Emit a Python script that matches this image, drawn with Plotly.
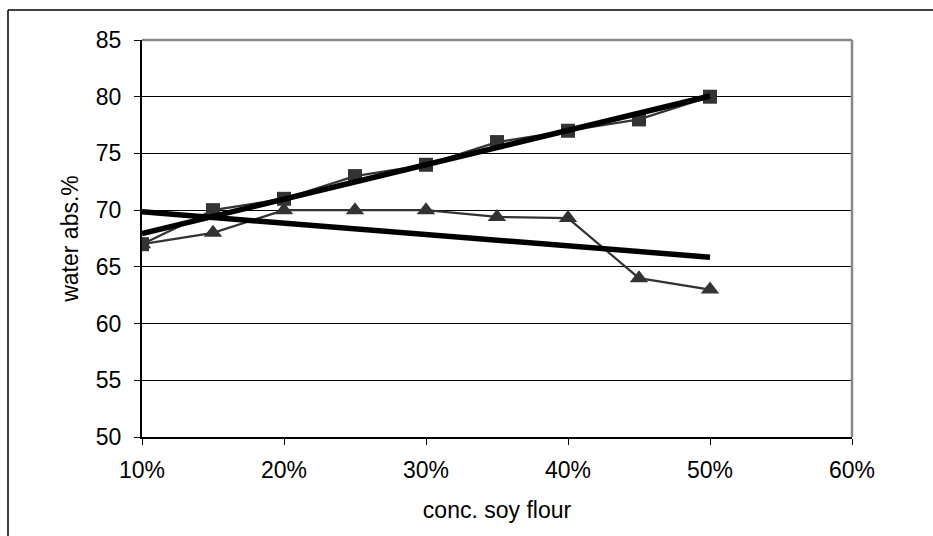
import numpy as np
import plotly.graph_objects as go

conc = [0.10, 0.15, 0.20, 0.25, 0.30, 0.35, 0.40, 0.45, 0.50]
series_square = [67, 70, 71, 73, 74, 76, 77, 78, 80]
series_triangle = [67, 68, 70, 70, 70, 69.4, 69.3, 64, 63]
x_ticks = [0.1, 0.2, 0.3, 0.4, 0.5, 0.6]
y_ticks = [50, 55, 60, 65, 70, 75, 80, 85]

W, H = 933, 536
L, R, T, B = 142, 81, 40, 99

fig = go.Figure()
fig.add_trace(go.Scatter(x=conc, y=series_square, mode="lines+markers",
                         line=dict(color="#333333", width=2.2),
                         marker=dict(symbol="square", size=14, color="#333333"),
                         showlegend=False))
fig.add_trace(go.Scatter(x=conc, y=series_triangle, mode="lines+markers",
                         line=dict(color="#333333", width=2.2),
                         marker=dict(symbol="triangle-up", size=16, color="#333333"),
                         showlegend=False))

xa = np.array(conc)
for ys in (series_square, series_triangle):
    m, b = np.polyfit(xa, np.array(ys), 1)
    xs = [conc[0], conc[-1]]
    fig.add_trace(go.Scatter(x=xs, y=[m * v + b for v in xs], mode="lines",
                             line=dict(color="black", width=5.5),
                             showlegend=False, hoverinfo="skip"))

tickfont = dict(family="Liberation Sans, Arial, sans-serif", size=23, color="black")
titlefont = dict(family="Liberation Sans, Arial, sans-serif", size=23, color="black")

fig.update_layout(
    width=W, height=H,
    margin=dict(l=L, r=R, t=T, b=B),
    paper_bgcolor="white", plot_bgcolor="white",
    font=titlefont,
    xaxis=dict(range=[0.1, 0.6], tickvals=x_ticks, tickformat=".0%",
               tickfont=tickfont,
               showgrid=False, zeroline=False,
               showline=True, linecolor="black", linewidth=2,
               ticks="outside", ticklen=6, tickcolor="black", tickwidth=1,
               title=dict(text="conc. soy flour", font=titlefont, standoff=20),
               ticklabelstandoff=5),
    yaxis=dict(range=[50, 85], tickvals=y_ticks, tickfont=tickfont,
               showgrid=True, gridcolor="black", gridwidth=1.3, zeroline=False,
               showline=True, linecolor="black", linewidth=2,
               ticks="outside", ticklen=6, tickcolor="black", tickwidth=1,
               ticklabelstandoff=8,
               title=dict(text="water abs.%", font=titlefont, standoff=11)),
    shapes=[
        dict(type="line", xref="paper", yref="paper", x0=0, x1=1, y0=1, y1=1,
             line=dict(color="#888888", width=2.5)),
        dict(type="line", xref="paper", yref="paper", x0=1, x1=1, y0=0, y1=1,
             line=dict(color="#888888", width=2.5)),
        dict(type="line", xref="paper", yref="paper",
             x0=(8 - L) / (W - L - R), x1=(W - L) / (W - L - R),
             y0=(H - 10 - B) / (H - T - B), y1=(H - 10 - B) / (H - T - B),
             line=dict(color="black", width=1.5)),
        dict(type="line", xref="paper", yref="paper",
             x0=(8 - L) / (W - L - R), x1=(8 - L) / (W - L - R),
             y0=-B / (H - T - B), y1=(H - 10 - B) / (H - T - B),
             line=dict(color="black", width=1.5)),
    ],
)

fig.write_html("out.html")
